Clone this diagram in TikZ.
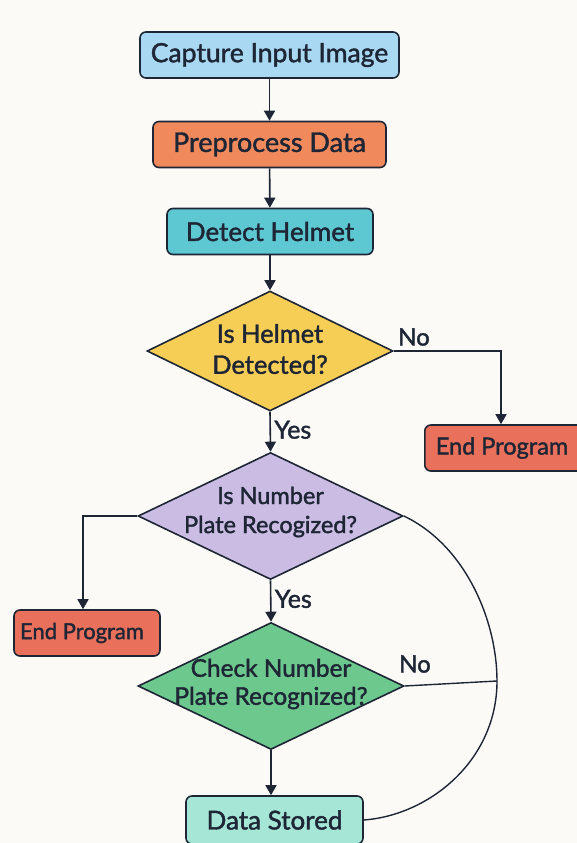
\documentclass[tikz,border=0pt]{standalone}
\usepackage{fontspec}
\setmainfont{Lato}[RawFeature={embolden=1.6}]
\usetikzlibrary{shapes.geometric,arrows.meta}
\definecolor{bg}{HTML}{FBFAF7}
\definecolor{ink}{HTML}{1E2636}
\definecolor{cblue}{HTML}{A9D9F2}
\definecolor{corange}{HTML}{F08A5C}
\definecolor{cteal}{HTML}{5EC8D2}
\definecolor{cyellow}{HTML}{F7CE55}
\definecolor{cred}{HTML}{E9705A}
\definecolor{clav}{HTML}{CBBCE3}
\definecolor{cgreen}{HTML}{6DC88D}
\definecolor{cmint}{HTML}{A6E6D6}
\newcommand{\fsz}[2]{\fontsize{#1}{#2}\selectfont}
\tikzset{
  procbox/.style={draw=ink, line width=1.6pt, rounded corners=6pt, minimum height=46pt, inner sep=0pt, font=\fsz{26}{29}, text=ink},
  decide/.style={diamond, draw=ink, line width=1.6pt, inner sep=0pt, aspect=2},
  dtext/.style={align=center, font=\fsz{23.5}{29}, text=ink},
  flow/.style={draw=ink, line width=1.6pt, -{Triangle[length=10pt,width=11pt]}},
  plain/.style={draw=ink, line width=1.4pt},
  lab/.style={font=\fsz{25}{28}, text=ink}
}
\begin{document}
\begin{tikzpicture}[x=1pt,y=-1pt]
\fill[bg] (0,0) rectangle (577,843);
\useasboundingbox (0,0) rectangle (577,843);

\node[procbox, fill=cblue, minimum width=259pt, font=\fsz{26.5}{29}] (cap) at (269.5,55) {Capture Input Image};
\node[procbox, fill=corange, minimum width=233pt, font=\fsz{27}{29}] (pre) at (269.5,144.5) {Preprocess Data};
\node[procbox, fill=cteal, minimum width=206pt] (det) at (270,231.5) {Detect Helmet};
\node[decide, fill=cyellow, minimum width=246pt, minimum height=120pt] (d1) at (270,351) {};
\node[dtext, font=\fsz{25.5}{31}] (t1) at (270,349) {Is Helmet\\Detected?};
\node[procbox, fill=cred, minimum width=166pt, anchor=west, font=\fsz{23.5}{27}] (endr) at (424,448) {\makebox[166pt][l]{\hspace*{11pt}End Program}};
\node[decide, fill=clav, minimum width=265pt, minimum height=127pt] (d2) at (270.5,516) {};
\node[dtext] (t2) at (270.5,512) {Is Number\\Plate Recogized?};
\node[procbox, fill=cred, minimum width=146pt, font=\fsz{22}{25}] (endl) at (87,633) {\hspace*{-10pt}End Program};
\node[decide, fill=cgreen, minimum width=266pt, minimum height=127pt] (d3) at (271,686) {};
\node[dtext, font=\fsz{24.4}{28}] (t3) at (271,684) {Check Number\\Plate Recognized?};
\node[procbox, fill=cmint, minimum width=177pt, minimum height=48pt] (ds) at (274.5,820) {Data Stored};

\draw[flow] (cap) -- (pre);
\draw[flow] (pre) -- (det);
\draw[flow] (det) -- (d1.north);
\draw[flow] (d1.east) -| (endr.north -| 501,0);
\draw[flow] (d1.south) -- node[lab, right, pos=0.45] (yes1) {Yes} (d2.north);
\draw[flow] (d2.west) -| (endl.north -| 83,0);
\draw[flow] (d2.south) -- node[lab, right, pos=0.45] (yes2) {Yes} (d3.north);
\draw[flow] (d3.south) -- (ds.north -| d3.south);
\node[lab, font=\fsz{24}{27}] (no1) at (414,337) {No};
\node[lab, font=\fsz{24}{27}] (no2) at (415,664) {No};
\coordinate (join) at (497,681);
\draw[plain] (d2.east) .. controls (465,545) and (497,620) .. (join)
  .. controls (497,760) and (430,815) .. (ds.east);
\draw[plain] (d3.east) -- (join);
\end{tikzpicture}
\end{document}
